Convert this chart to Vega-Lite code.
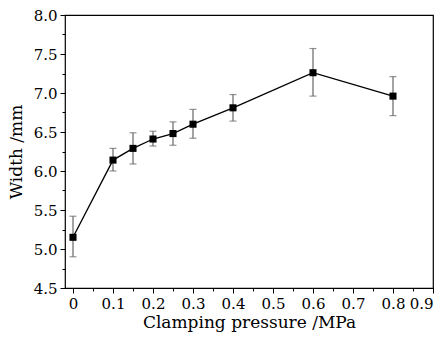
{
  "$schema": "https://vega.github.io/schema/vega-lite/v6.json",
  "autosize": "none",
  "width": 368,
  "height": 273,
  "padding": {"left": 65, "top": 15, "right": 14, "bottom": 52},
  "background": "white",
  "config": {
    "font": "DejaVu Serif",
    "view": {"stroke": "black", "strokeWidth": 1.2},
    "axis": {
      "domain": false,
      "grid": false,
      "tickColor": "black",
      "labelColor": "black",
      "titleColor": "black",
      "labelFont": "DejaVu Serif",
      "titleFont": "DejaVu Serif",
      "labelFontSize": 15,
      "titleFontSize": 17,
      "titleFontWeight": "normal",
      "tickSize": 5
    }
  },
  "data": {
    "values": [
      {"p": 0, "w": 5.15, "lo": 4.9, "hi": 5.42},
      {"p": 0.1, "w": 6.14, "lo": 6.0, "hi": 6.29},
      {"p": 0.15, "w": 6.29, "lo": 6.09, "hi": 6.49},
      {"p": 0.2, "w": 6.41, "lo": 6.32, "hi": 6.51},
      {"p": 0.25, "w": 6.48, "lo": 6.33, "hi": 6.63},
      {"p": 0.3, "w": 6.6, "lo": 6.42, "hi": 6.79},
      {"p": 0.4, "w": 6.81, "lo": 6.64, "hi": 6.98},
      {"p": 0.6, "w": 7.26, "lo": 6.96, "hi": 7.57},
      {"p": 0.8, "w": 6.96, "lo": 6.71, "hi": 7.21}
    ]
  },
  "resolve": {"axis": {"x": "independent", "y": "independent"}},
  "layer": [
    {
      "encoding": {
        "x": {
          "field": "p",
          "type": "quantitative",
          "scale": {"domain": [-0.02, 0.9], "nice": false, "zero": false},
          "axis": {
            "orient": "bottom",
            "title": "Clamping pressure /MPa",
            "values": [0, 0.1, 0.2, 0.3, 0.4, 0.5, 0.6, 0.7, 0.8, 0.9],
            "format": "~g",
            "labelPadding": 3,
            "titlePadding": 3
          }
        },
        "y": {
          "field": "w",
          "type": "quantitative",
          "scale": {"domain": [4.5, 8.0], "nice": false, "zero": false},
          "axis": {
            "orient": "left",
            "title": "Width /mm",
            "values": [4.5, 5.0, 5.5, 6.0, 6.5, 7.0, 7.5, 8.0],
            "format": ".1f",
            "labelPadding": 3,
            "titlePadding": 8
          }
        }
      },
      "layer": [
        {
          "mark": {"type": "rule", "color": "#666666", "strokeWidth": 1.2},
          "encoding": {"y": {"field": "lo", "type": "quantitative"}, "y2": {"field": "hi"}}
        },
        {
          "mark": {"type": "tick", "orient": "horizontal", "color": "#666666", "size": 7, "thickness": 1.2},
          "encoding": {"y": {"field": "lo", "type": "quantitative"}}
        },
        {
          "mark": {"type": "tick", "orient": "horizontal", "color": "#666666", "size": 7, "thickness": 1.2},
          "encoding": {"y": {"field": "hi", "type": "quantitative"}}
        },
        {
          "mark": {"type": "point", "shape": "square", "filled": true, "color": "black", "size": 50, "opacity": 1},
          "encoding": {}
        }
      ]
    },
    {
      "mark": {"type": "line", "color": "black", "strokeWidth": 1.3},
      "encoding": {
        "x": {
          "field": "p",
          "type": "quantitative",
          "axis": {
            "orient": "bottom",
            "title": null,
            "labels": false,
            "values": [0.05, 0.15, 0.25, 0.35, 0.45, 0.55, 0.65, 0.75, 0.85],
            "tickSize": 3
          }
        },
        "y": {
          "field": "w",
          "type": "quantitative",
          "axis": {
            "orient": "left",
            "title": null,
            "labels": false,
            "values": [4.75, 5.25, 5.75, 6.25, 6.75, 7.25, 7.75],
            "tickSize": 3
          }
        }
      }
    }
  ]
}
